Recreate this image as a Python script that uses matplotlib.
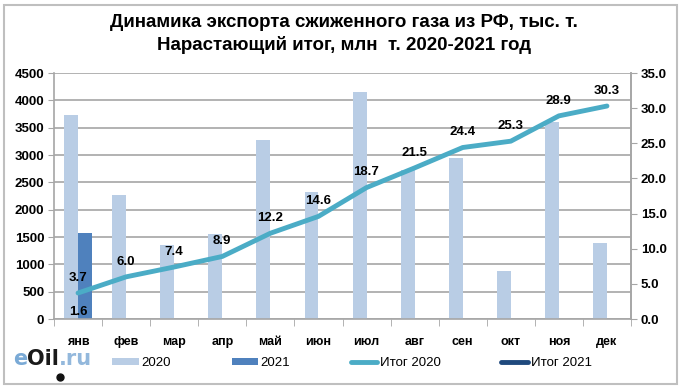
import matplotlib
matplotlib.use("Agg")
import matplotlib.pyplot as plt
import numpy as np
from matplotlib.patches import Rectangle, Patch
from matplotlib.lines import Line2D

plt.rcParams['font.family'] = ['Liberation Sans', 'DejaVu Sans']

months = ["янв", "фев", "мар", "апр", "май", "июн", "июл", "авг", "сен", "окт", "ноя", "дек"]
exp_2020 = [3740, 2270, 1350, 1560, 3280, 2320, 4150, 2720, 2940, 880, 3600, 1390]
exp_2021 = [1580] + [np.nan] * 11
cum_2020 = [3.7, 6.0, 7.4, 8.9, 12.2, 14.6, 18.7, 21.5, 24.4, 25.3, 28.9, 30.3]
cum_2021 = [1.6] + [np.nan] * 11

title = "Динамика экспорта сжиженного газа из РФ, тыс. т.\nНарастающий итог, млн  т. 2020-2021 год"

c2020 = "#B9CDE5"
c2021 = "#4F81BD"
cl2020 = "#4BACC6"
cl2021 = "#1F497D"
grid_c = "#A6A6A6"

fig = plt.figure(figsize=(6.82, 3.89), dpi=100)
fig.patch.set_facecolor("white")
fig.patches.append(Rectangle((4/682, 5/389), 673/682, 379/389, transform=fig.transFigure,
                             fill=False, edgecolor="#BFBFBF", linewidth=1.5))

ax = fig.add_axes([54/682, 1 - 319/389, (631-54)/682, (319-73)/389])
x = np.arange(len(months))
w = 0.29
ax.bar(x - w/2, exp_2020, width=w, color=c2020, zorder=2)
ax.bar(x + w/2, exp_2021, width=w, color=c2021, zorder=2)
ax.set_xlim(-0.5, len(months) - 0.5)
ax.set_ylim(0, 4500)
ax.set_yticks(np.arange(0, 4501, 500))
ax.yaxis.grid(True, color=grid_c, linewidth=1.2, zorder=0)
ax.set_axisbelow(True)
ax.set_xticks(x)
ax.set_xticklabels(months, fontsize=9, fontweight="bold")
ax.set_xticks(np.arange(-0.5, len(months)), minor=True)
ax.tick_params(axis="x", which="major", length=0, pad=12)
ax.tick_params(axis="x", which="minor", length=5, color=grid_c, direction="out")
ax.tick_params(axis="y", length=4, color=grid_c, labelsize=9.5, pad=3)
for lbl in ax.get_yticklabels():
    lbl.set_fontweight("bold")
for s in ["top"]:
    ax.spines[s].set_visible(False)
for s in ["left", "bottom", "right"]:
    ax.spines[s].set_color(grid_c)
    ax.spines[s].set_linewidth(1.2)

ax2 = ax.twinx()
ax2.set_ylim(0, 35)
ax2.set_yticks(np.arange(0, 35.1, 5))
ax2.set_yticklabels([f"{v:.1f}" for v in np.arange(0, 35.1, 5)], fontsize=9.5, fontweight="bold")
ax2.tick_params(axis="y", length=4, color=grid_c, pad=3)
for s in ["top", "left", "bottom"]:
    ax2.spines[s].set_visible(False)
ax2.spines["right"].set_color(grid_c)
ax2.spines["right"].set_linewidth(1.2)

ax2.plot(x, cum_2020, color=cl2020, linewidth=3.5, solid_capstyle="round", zorder=3)
ax2.plot(x, cum_2021, color=cl2021, linewidth=3.5, solid_capstyle="round", zorder=3)
for xi, v in zip(x, cum_2020):
    ax2.annotate(f"{v:.1f}", (xi, v), xytext=(0, 11), textcoords="offset points",
                 ha="center", va="center", fontsize=9.5, fontweight="bold")
for xi, v in zip(x, cum_2021):
    if not np.isnan(v):
        ax2.annotate(f"{v:.1f}", (xi, v), xytext=(0, -3), textcoords="offset points",
                     ha="center", va="center", fontsize=9.5, fontweight="bold")

fig.text(0.505, 1 - 34/389, title, ha="center", va="center", fontsize=13.5,
         fontweight="bold", linespacing=1.3)

handles = [Patch(facecolor=c2020, edgecolor="none"),
           Patch(facecolor=c2021, edgecolor="none"),
           Line2D([0], [0], color=cl2020, linewidth=3.5, solid_capstyle="round"),
           Line2D([0], [0], color=cl2021, linewidth=3.5, solid_capstyle="round")]
labels = ["2020", "2021", "Итог 2020", "Итог 2021"]
fig.legend(handles, labels, loc="center", bbox_to_anchor=(0.516, 1 - 363/389), ncol=4,
           frameon=False, fontsize=9.5, handlelength=2.0, handleheight=0.5,
           handletextpad=0.2, columnspacing=4.6)

# logo
y_logo = 1 - 359/389
lf = dict(fontsize=15, va="center", ha="left", family="DejaVu Sans", fontweight="bold")
t1 = fig.text(13/682, y_logo, "e", color="#7AAAD6", **lf)
fig.canvas.draw()
r = fig.canvas.get_renderer()
bb = t1.get_window_extent(r)
t2 = fig.text(bb.x1/682, y_logo, "Oil", color="#1A1A1A", **lf)
bb2 = t2.get_window_extent(r)
t3 = fig.text(bb2.x1/682, y_logo, ".ru", color="#93B8DC", **lf)
fig.add_artist(Line2D([(bb2.x1 + 1)/682], [1 - 377/389], marker="o", markersize=5,
                      color="#111111", transform=fig.transFigure, linestyle="none"))

fig.savefig("out.png", dpi=100)
